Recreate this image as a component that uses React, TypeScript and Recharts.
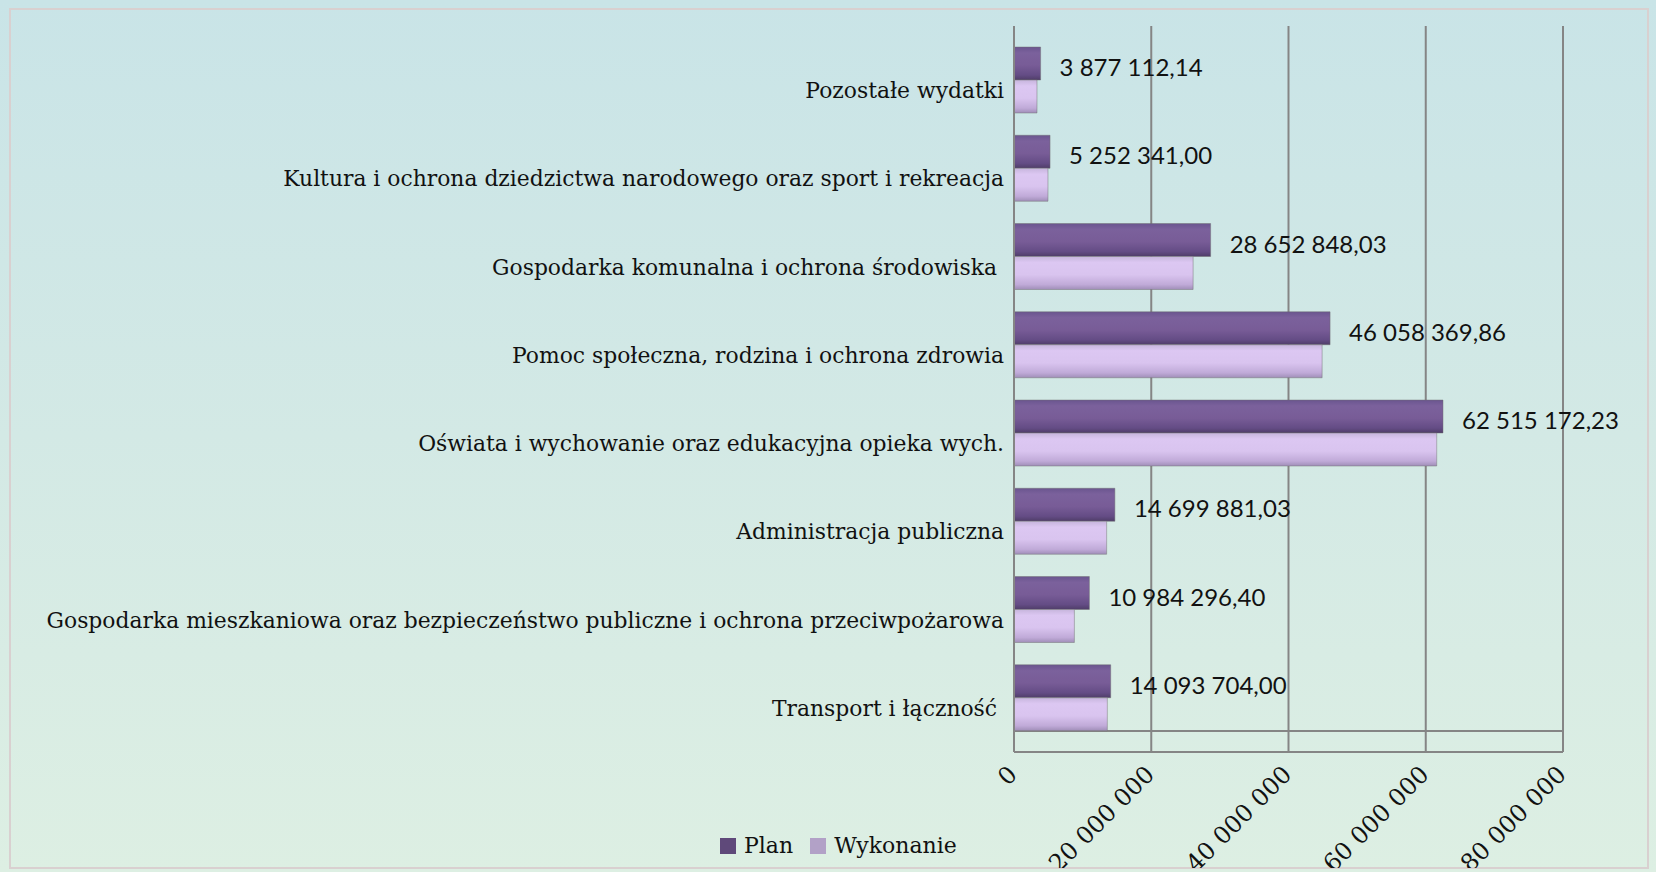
import React from 'react';
import { BarChart, Bar, XAxis, YAxis, CartesianGrid, LabelList, Legend } from 'recharts';

const categories = [
  'Pozostałe wydatki',
  'Kultura i ochrona dziedzictwa narodowego oraz sport i rekreacja',
  'Gospodarka komunalna i ochrona środowiska ',
  'Pomoc społeczna, rodzina i ochrona zdrowia',
  'Oświata i wychowanie oraz edukacyjna opieka wych.',
  'Administracja publiczna',
  'Gospodarka mieszkaniowa oraz bezpieczeństwo publiczne i ochrona przeciwpożarowa',
  'Transport i łączność ',
];
const planValues = [3877112.14, 5252341.0, 28652848.03, 46058369.86, 62515172.23, 14699881.03, 10984296.4, 14093704.0];
const wykonanieValues = [3350000, 4950000, 26100000, 44900000, 61600000, 13500000, 8800000, 13600000];
const xTicks = [0, 20000000, 40000000, 60000000, 80000000];
const seriesNames = ['Plan', 'Wykonanie'];
const legendColors = ['#5F497A', '#B2A1C7'];

const data = categories.map((c, i) => ({ name: c, plan: planValues[i], wyk: wykonanieValues[i] }));

const fmtNum = (v: number, dec: number) => {
  const [i, d] = v.toFixed(dec).split('.');
  const g = i.replace(/\B(?=(\d{3})+(?!\d))/g, ' ');
  return d ? `${g},${d}` : g;
};

const SERIF = '"DejaVu Serif", serif';

const CategoryTick = (props: any) => {
  const { x, y, payload } = props;
  return (
    <text x={x} y={y + 18} textAnchor="end" fontFamily={SERIF} fontSize={21.85} fill="#111" style={{ whiteSpace: 'pre' }}>
      {payload.value}
    </text>
  );
};

const ValueTick = (props: any) => {
  const { x, y, payload } = props;
  const px = x + 4.6;
  const py = y + 24;
  return (
    <text x={px} y={py} transform={`rotate(-45 ${px} ${py})`} textAnchor="end" fontFamily={SERIF} fontSize={24} fill="#111">
      {fmtNum(payload.value, 0)}
    </text>
  );
};

const ValueLabel = (props: any) => {
  const { x, y, width, height, value } = props;
  return (
    <text x={x + width + 19} y={y + height / 2 + 12.5} fontFamily="Lato, sans-serif" fontSize={24} fill="#111">
      {fmtNum(value, 2)}
    </text>
  );
};

const LegendContent = () => (
  <div style={{ display: 'flex', alignItems: 'center', fontFamily: SERIF, fontSize: 22, lineHeight: '24px', color: '#111' }}>
    {seriesNames.map((n, i) => (
      <div key={n} style={{ display: 'flex', alignItems: 'center', marginRight: 17 }}>
        <div style={{ width: 16, height: 16, background: legendColors[i], marginRight: 8 }} />
        <span>{n}</span>
      </div>
    ))}
  </div>
);

export default function App() {
  return (
    <div
      style={{
        position: 'absolute',
        left: 0,
        top: 0,
        width: 1656,
        height: 872,
        overflow: 'hidden',
        background: 'linear-gradient(to bottom, #c9e4e7 0%, #d3e9e5 50%, #ddefe3 100%)',
      }}
    >
      <div
        style={{
          position: 'absolute',
          left: 9,
          top: 8,
          width: 1640,
          height: 861,
          border: '2px solid #d9d0d0',
          boxSizing: 'border-box',
        }}
      />
      <div style={{ position: 'absolute', left: 0, top: 0 }}>
        <BarChart
          width={1656}
          height={868}
          data={data}
          layout="vertical"
          margin={{ top: 26, right: 93, bottom: 0, left: 0 }}
          barGap={0}
          barSize={33}
        >
          <defs>
            <linearGradient id="gPlan" x1="0" y1="0" x2="0" y2="1">
              <stop offset="0%" stopColor="#6a558f" />
              <stop offset="18%" stopColor="#7b619c" />
              <stop offset="55%" stopColor="#785c97" />
              <stop offset="85%" stopColor="#644c85" />
              <stop offset="100%" stopColor="#4f3d68" />
            </linearGradient>
            <linearGradient id="gWyk" x1="0" y1="0" x2="0" y2="1">
              <stop offset="0%" stopColor="#c6b5dc" />
              <stop offset="18%" stopColor="#dcc7f2" />
              <stop offset="55%" stopColor="#d9c4ef" />
              <stop offset="85%" stopColor="#c0aad8" />
              <stop offset="100%" stopColor="#a08eb8" />
            </linearGradient>
          </defs>
          <CartesianGrid
            vertical
            horizontal
            stroke="#858585"
            strokeWidth={2}
            horizontalCoordinatesGenerator={(p: any) => [p.offset.top + p.offset.height - 21, p.offset.top + p.offset.height]}
          />
          <XAxis
            type="number"
            domain={[0, 80000000]}
            ticks={xTicks}
            interval={0}
            height={116}
            axisLine={false}
            tickLine={false}
            tickSize={0}
            tickMargin={0}
            tick={<ValueTick />}
          />
          <YAxis
            type="category"
            dataKey="name"
            width={1014}
            padding={{ top: 10, bottom: 10 }}
            axisLine={{ stroke: '#858585', strokeWidth: 2 }}
            tickLine={false}
            tickSize={0}
            tickMargin={10}
            interval={0}
            tick={<CategoryTick />}
          />
          <Legend
            layout="vertical"
            verticalAlign="middle"
            align="center"
            wrapperStyle={{ position: 'absolute', left: 720, top: 834, width: 300, height: 26 }}
            content={<LegendContent />}
          />
          <Bar dataKey="plan" name="Plan" fill="url(#gPlan)" stroke="#6e6e6e" strokeOpacity={0.45} isAnimationActive={false}>
            <LabelList dataKey="plan" content={<ValueLabel />} />
          </Bar>
          <Bar dataKey="wyk" name="Wykonanie" fill="url(#gWyk)" stroke="#6e6e6e" strokeOpacity={0.45} isAnimationActive={false} />
        </BarChart>
      </div>
    </div>
  );
}
